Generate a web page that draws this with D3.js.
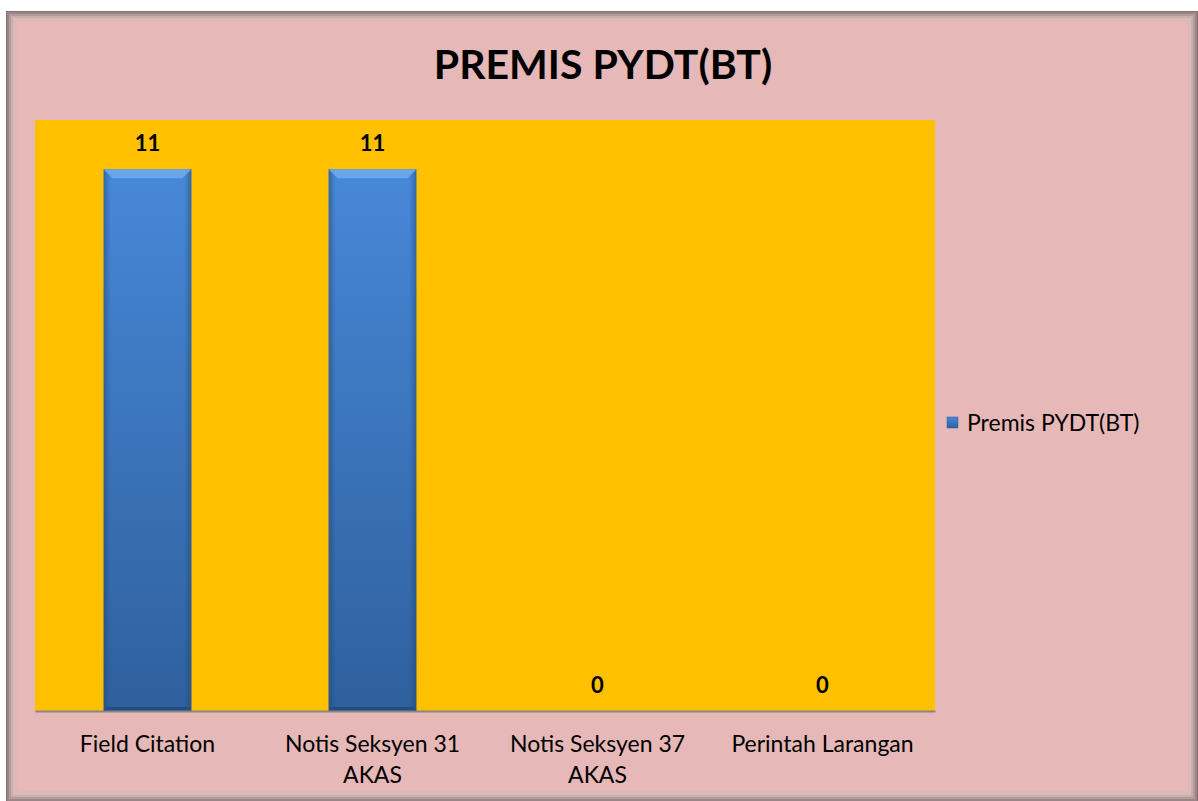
<!DOCTYPE html>
<html>
<head>
<meta charset="utf-8">
<script src="https://cdn.jsdelivr.net/npm/d3@7"></script>
<style>
  body { margin: 0; background: #fff; }
  text { font-family: Lato, "Open Sans", sans-serif; }
</style>
</head>
<body>
<div id="grafico"></div>
<script>
// dados do gráfico
const categorias = [["Field Citation"], ["Notis Seksyen 31", "AKAS"], ["Notis Seksyen 37", "AKAS"], ["Perintah Larangan"]]
const valores = [11, 11, 0, 0]
const serie = "Premis PYDT(BT)"
const titulo = "PREMIS PYDT(BT)"

const W = 1198, H = 801
const plot = {left: 35, top: 120, right: 935, bottom: 711}

const svg = d3.select("#grafico")
  .append("svg")
    .attr("width", W)
    .attr("height", H)

const defs = svg.append("defs")

// gradiente das barras
const grad = defs.append("linearGradient").attr("id", "barGrad")
  .attr("x1", 0).attr("y1", 0).attr("x2", 0).attr("y2", 1)
grad.append("stop").attr("offset", "0%").attr("stop-color", "#4788d8")
grad.append("stop").attr("offset", "100%").attr("stop-color", "#2f609d")

const sideGrad = defs.append("linearGradient").attr("id", "sideGrad")
  .attr("x1", 0).attr("y1", 0).attr("x2", 1).attr("y2", 0)
sideGrad.append("stop").attr("offset", "0%").attr("stop-color", "#1d3f6e").attr("stop-opacity", 0.45)
sideGrad.append("stop").attr("offset", "8%").attr("stop-color", "#1d3f6e").attr("stop-opacity", 0)
sideGrad.append("stop").attr("offset", "92%").attr("stop-color", "#1d3f6e").attr("stop-opacity", 0)
sideGrad.append("stop").attr("offset", "100%").attr("stop-color", "#1d3f6e").attr("stop-opacity", 0.45)

// moldura com sombra interna
svg.append("rect")
  .attr("x", 6).attr("y", 11).attr("width", W - 6).attr("height", H - 11)
  .attr("fill", "#8a7070")
const frameSteps = [[0, "#9c8586"], [2, "#b39a9b"], [4, "#c9aeae"], [6, "#d8bbbb"], [8, "#e1b6b5"], [10, "#e6b8b7"]]
frameSteps.forEach(([d, c]) => {
  svg.append("rect")
    .attr("x", 7 + d).attr("y", 12 + d)
    .attr("width", W - 14 - 2 * d + 6).attr("height", H - 12 - 2 * d)
    .attr("fill", c)
})

// título
svg.append("text")
  .attr("x", 603).attr("y", 79)
  .attr("text-anchor", "middle")
  .attr("font-size", "41px")
  .attr("font-weight", "bold")
  .attr("fill", "#000")
  .text(titulo)

// área do gráfico
svg.append("rect")
  .attr("x", plot.left).attr("y", plot.top)
  .attr("width", plot.right - plot.left).attr("height", plot.bottom - plot.top)
  .attr("fill", "#ffc000")

const x = d3.scaleBand()
  .domain(d3.range(categorias.length))
  .range([plot.left, plot.right])
  .paddingInner(0.61)
  .paddingOuter(0.305)

const y = d3.scaleLinear()
  .domain([0, 12])
  .range([plot.bottom, plot.top])

// barras
const bars = svg.append("g").selectAll("g")
  .data(valores)
  .join("g")

bars.append("rect")
  .attr("x", (d, i) => x(i))
  .attr("y", d => y(d))
  .attr("width", x.bandwidth())
  .attr("height", d => plot.bottom - y(d))
  .attr("fill", "url(#barGrad)")

bars.filter(d => d > 0).append("rect")
  .attr("x", (d, i) => x(i))
  .attr("y", d => y(d))
  .attr("width", x.bandwidth())
  .attr("height", d => plot.bottom - y(d))
  .attr("fill", "url(#sideGrad)")

// chanfro no topo
bars.filter(d => d > 0).append("path")
  .attr("d", (d, i) => {
    const x0 = x(i), x1 = x(i) + x.bandwidth(), t = y(d)
    return `M${x0},${t} L${x1},${t} L${x1 - 9},${t + 9} L${x0 + 9},${t + 9} Z`
  })
  .attr("fill", "#6aa6ea")

bars.filter(d => d > 0).append("path")
  .attr("d", (d, i) => {
    const x0 = x(i), x1 = x(i) + x.bandwidth(), b = plot.bottom
    return `M${x0},${b} L${x1},${b} L${x1 - 4},${b - 4} L${x0 + 4},${b - 4} Z`
  })
  .attr("fill", "#234c80")

// rótulos de valor
bars.append("text")
  .attr("x", (d, i) => x(i) + x.bandwidth() / 2)
  .attr("y", d => y(d) - 18)
  .attr("text-anchor", "middle")
  .attr("font-size", "22px")
  .attr("font-weight", "bold")
  .text(d => d)

// eixo x
const xAxis = svg.append("g")
  .attr("transform", `translate(0,${plot.bottom})`)
  .call(d3.axisBottom(x).tickSize(0).tickFormat(""))
xAxis.select(".domain").attr("stroke", "#868686").attr("stroke-width", 2)

const labels = svg.append("g").selectAll("text")
  .data(categorias)
  .join("text")
    .attr("x", (d, i) => x(i) + x.bandwidth() / 2)
    .attr("y", 752)
    .attr("text-anchor", "middle")
    .attr("font-size", "23px")
    .attr("fill", "#000")

labels.selectAll("tspan")
  .data(d => d)
  .join("tspan")
    .attr("x", function () { return this.parentNode.getAttribute("x") })
    .attr("dy", (d, i) => i === 0 ? 0 : 31)
    .text(d => d)

// legenda
svg.append("rect")
  .attr("x", 947).attr("y", 417).attr("width", 11).attr("height", 11)
  .attr("fill", "url(#barGrad)")
  .attr("stroke", "#2f609d").attr("stroke-width", 0.5)
svg.append("text")
  .attr("x", 967).attr("y", 431)
  .attr("font-size", "23px")
  .text(serie)
</script>
</body>
</html>
